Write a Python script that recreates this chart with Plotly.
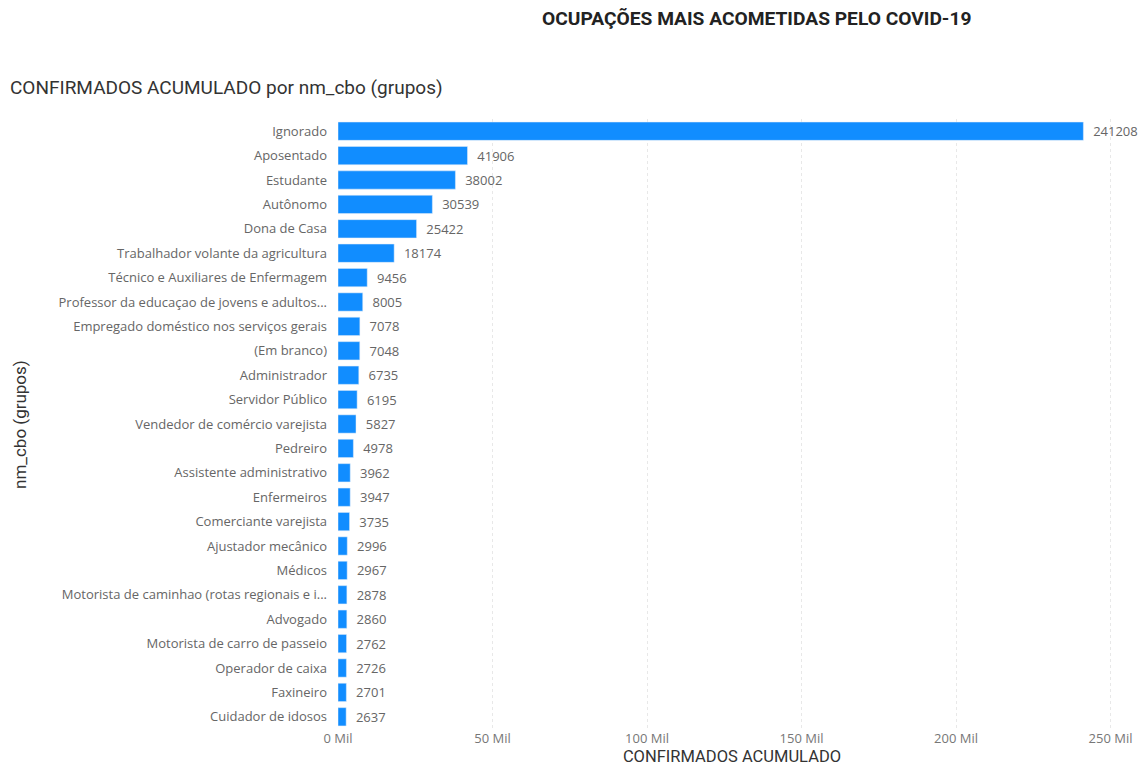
import plotly.graph_objects as go

categories = [
    "Ignorado", "Aposentado", "Estudante", "Autônomo", "Dona de Casa",
    "Trabalhador volante da agricultura", "Técnico e Auxiliares de Enfermagem",
    "Professor da educaçao de jovens e adultos...", "Empregado doméstico nos serviços gerais",
    "(Em branco)", "Administrador", "Servidor Público", "Vendedor de comércio varejista",
    "Pedreiro", "Assistente administrativo", "Enfermeiros", "Comerciante varejista",
    "Ajustador mecânico", "Médicos", "Motorista de caminhao (rotas regionais e i...",
    "Advogado", "Motorista de carro de passeio", "Operador de caixa", "Faxineiro",
    "Cuidador de idosos",
]
values = [241208, 41906, 38002, 30539, 25422, 18174, 9456, 8005, 7078, 7048, 6735,
          6195, 5827, 4978, 3962, 3947, 3735, 2996, 2967, 2878, 2860, 2762, 2726,
          2701, 2637]
tick_vals = [0, 50000, 100000, 150000, 200000, 250000]
tick_text = ["0 Mil", "50 Mil", "100 Mil", "150 Mil", "200 Mil", "250 Mil"]

W, H = 1142, 780
L, R, T, B = 338, 16, 119, 51
pw = W - L - R
ph = H - T - B

fig = go.Figure(go.Bar(
    x=values, y=categories, orientation="h",
    marker=dict(color="#118DFF"),
    text=["  " + str(v) for v in values], textposition="outside",
    textfont=dict(color="#666666", size=13, family="Open Sans"),
    cliponaxis=False,
))

def px_x(p):
    return (p - L) / pw

def px_y(p):
    return 1 - (p - T) / ph

fig.update_layout(
    width=W, height=H,
    margin=dict(l=L, r=R, t=T, b=B),
    paper_bgcolor="white", plot_bgcolor="white",
    bargap=0.25,
    showlegend=False,
    font=dict(family="Open Sans", color="#666666", size=13),
    xaxis=dict(
        range=[0, 255000], tickvals=tick_vals, ticktext=tick_text,
        showgrid=True, gridcolor="#e8e8e8", griddash="dot", gridwidth=1,
        zeroline=False, showline=False,
        tickfont=dict(family="Open Sans", size=13, color="#777777"),
        title=dict(text="CONFIRMADOS ACUMULADO", font=dict(family="Roboto", size=16.5, color="#333333"), standoff=4),
        automargin=False,
    ),
    yaxis=dict(
        autorange="reversed", showgrid=False, zeroline=False, showline=False,
        ticklabelstandoff=10,
        tickfont=dict(family="Open Sans", size=13, color="#666666"),
        automargin=False,
    ),
    annotations=[
        dict(text="<b>OCUPAÇÕES MAIS ACOMETIDAS PELO COVID-19</b>", xref="paper", yref="paper",
             x=px_x(756), y=px_y(18), xanchor="center", yanchor="middle", showarrow=False,
             font=dict(family="Roboto", size=19.2, color="#222222")),
        dict(text="CONFIRMADOS ACUMULADO por nm_cbo (grupos)", xref="paper", yref="paper",
             x=px_x(8), y=px_y(88), xanchor="left", yanchor="middle", showarrow=False,
             font=dict(family="Roboto", size=19, color="#333333")),
        dict(text="nm_cbo (grupos)", xref="paper", yref="paper", textangle=-90,
             x=px_x(20), y=px_y(425), xanchor="center", yanchor="middle", showarrow=False,
             font=dict(family="Roboto", size=17, color="#333333")),
    ],
)

fig.write_html("out.html", config={"displayModeBar": False},
               post_script="document.body.style.margin='0';document.body.style.overflow='hidden';")
